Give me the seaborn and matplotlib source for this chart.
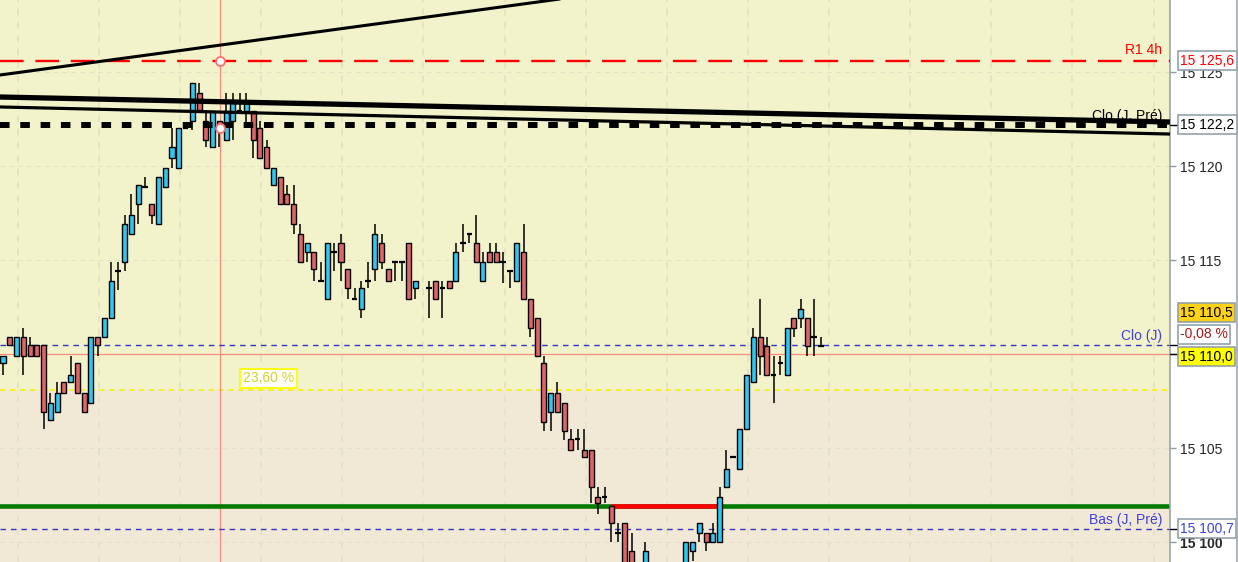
import numpy as np
import pandas as pd
import matplotlib
matplotlib.use('Agg')
import matplotlib.pyplot as plt
import matplotlib.transforms as mtransforms
from matplotlib.lines import Line2D
import seaborn as sns

# OHLC (one value per bar, NaN = empty slot)
opens = [15109.5, 15110.9, 15109.9, 15110.9, 15110.5, 15110.5, 15110.5, 15106.5, 15106.9, 15108.5,
         15108.5, 15109.5, 15107.9, 15107.4, 15110.9, 15110.9, 15111.9, 15114.4, 15114.9, 15116.4,
         15118.0, 15118.9, 15118.0, 15116.9, 15118.9, 15120.4, 15119.9, 15122.0, 15122.4, 15123.9,
         15122.4, 15121.0, 15122.4, 15121.4, 15122.4, 15122.9, 15122.9, 15122.9, 15122.0, 15121.0,
         15119.0, 15119.4, 15118.5, 15118.0, 15116.4, 15115.4, 15115.4, 15113.9, 15112.9, 15115.4,
         15115.9, 15114.5, 15112.9, 15112.4, 15113.9, 15114.5, 15115.9, 15114.5, 15114.9, 15114.9,
         15115.9, 15113.5, np.nan, 15113.5, 15113.9, 15113.5, 15113.9, 15113.9, 15115.9, 15116.4,
         15115.9, 15113.9, 15115.4, 15115.4, 15114.9, 15114.4, 15113.9, 15115.4, 15112.9, 15111.9,
         15109.5, 15106.9, 15107.9, 15107.4, 15105.5, 15105.5, 15104.9, 15104.9, 15102.4, 15102.4,
         15101.9, 15100.5, 15101.0, 15099.5, 15098.5, 15098.0, 15098.5, 15097.6, 15097.0, 15097.8,
         15097.3, 15098.2, 15099.5, 15100.5, 15100.5, 15100.0, 15100.0, 15102.9, 15104.5, 15103.9,
         15106.0, 15108.5, 15110.9, 15110.4, 15108.9, 15109.5, 15108.9, 15111.9, 15111.9, 15111.9,
         15110.9, 15110.4]
closes = [15109.9, 15110.5, 15110.9, 15109.9, 15109.9, 15109.9, 15106.9, 15107.4, 15107.9, 15107.9,
          15108.9, 15107.9, 15106.9, 15110.9, 15110.5, 15111.9, 15113.9, 15114.4, 15116.9, 15117.4,
          15119.0, 15118.9, 15117.4, 15119.4, 15119.9, 15121.0, 15122.0, 15122.0, 15124.4, 15123.0,
          15121.4, 15122.9, 15122.1, 15122.9, 15123.4, 15122.9, 15123.4, 15121.4, 15120.4, 15119.9,
          15119.9, 15118.0, 15118.0, 15116.9, 15114.9, 15115.9, 15114.5, 15113.9, 15115.9, 15115.4,
          15114.9, 15113.5, 15112.9, 15113.5, 15113.9, 15116.4, 15114.9, 15113.9, 15114.9, 15114.9,
          15112.9, 15113.9, np.nan, 15113.5, 15112.9, 15113.5, 15113.5, 15115.4, 15115.9, 15116.4,
          15114.9, 15114.9, 15114.9, 15114.9, 15114.9, 15114.4, 15115.9, 15112.9, 15111.4, 15109.9,
          15106.4, 15107.9, 15106.9, 15105.9, 15104.9, 15105.5, 15104.5, 15102.9, 15102.1, 15102.4,
          15101.0, 15100.5, 15098.0, 15098.2, 15097.5, 15099.5, 15097.6, 15097.0, 15097.8, 15097.3,
          15098.2, 15100.0, 15100.0, 15101.0, 15100.0, 15100.5, 15102.4, 15103.9, 15104.5, 15106.0,
          15108.9, 15110.9, 15109.9, 15108.9, 15108.9, 15109.5, 15111.4, 15111.4, 15112.4, 15110.4,
          15110.9, 15110.4]
highs = [15109.9, 15110.9, 15110.9, 15111.4, 15110.9, 15110.5, 15110.5, 15107.9, 15108.5, 15108.5,
         15109.9, 15109.5, 15107.9, 15110.9, 15110.9, 15111.9, 15114.9, 15114.9, 15117.4, 15118.5,
         15119.0, 15119.4, 15118.0, 15119.4, 15119.9, 15122.0, 15122.0, 15122.0, 15124.4, 15124.4,
         15123.0, 15122.9, 15122.4, 15123.9, 15123.9, 15123.9, 15123.9, 15122.9, 15122.4, 15121.4,
         15119.9, 15119.4, 15119.0, 15119.0, 15116.9, 15115.9, 15115.4, 15114.9, 15115.9, 15115.9,
         15116.4, 15114.5, 15113.5, 15113.9, 15114.9, 15116.9, 15116.4, 15114.5, 15114.9, 15114.9,
         15115.9, 15113.9, np.nan, 15113.9, 15113.9, 15113.9, 15113.9, 15115.9, 15116.9, 15116.4,
         15117.4, 15115.4, 15115.9, 15115.9, 15115.4, 15114.4, 15115.9, 15116.9, 15112.9, 15111.9,
         15109.9, 15107.9, 15108.5, 15107.4, 15106.0, 15106.0, 15106.0, 15104.9, 15102.9, 15102.9,
         15101.9, 15101.0, 15101.0, 15100.5, 15098.8, 15100.0, 15098.8, 15098.0, 15098.3, 15098.5,
         15098.7, 15100.0, 15100.0, 15101.0, 15100.5, 15101.0, 15102.9, 15104.9, 15104.5, 15106.0,
         15108.9, 15111.4, 15112.9, 15110.9, 15109.9, 15109.9, 15111.4, 15111.9, 15112.9, 15111.9,
         15112.9, 15110.9]
lows = [15108.9, 15110.5, 15109.9, 15108.9, 15109.9, 15109.9, 15106.0, 15106.5, 15106.9, 15107.9,
        15108.5, 15107.9, 15106.9, 15107.4, 15109.9, 15110.9, 15111.9, 15113.4, 15114.4, 15116.4,
        15116.9, 15118.9, 15116.9, 15116.9, 15118.9, 15119.9, 15119.9, 15122.0, 15121.9, 15123.0,
        15121.0, 15121.0, 15121.0, 15121.4, 15121.4, 15122.9, 15122.0, 15120.4, 15120.4, 15119.9,
        15119.0, 15118.0, 15118.0, 15116.4, 15114.9, 15114.9, 15113.9, 15113.9, 15112.9, 15114.4,
        15113.9, 15112.9, 15112.9, 15111.9, 15113.5, 15113.9, 15114.5, 15113.9, 15113.9, 15113.9,
        15112.9, 15112.9, np.nan, 15111.9, 15112.9, 15111.9, 15113.5, 15113.9, 15115.4, 15115.9,
        15114.9, 15113.9, 15114.9, 15114.9, 15113.8, 15113.5, 15113.9, 15112.9, 15110.9, 15109.9,
        15105.9, 15105.9, 15106.9, 15105.4, 15104.9, 15104.9, 15104.5, 15102.1, 15101.5, 15102.1,
        15100.0, 15100.0, 15098.0, 15098.2, 15097.0, 15098.0, 15097.2, 15096.5, 15096.8, 15097.0,
        15097.0, 15098.2, 15099.0, 15100.0, 15099.5, 15100.0, 15100.0, 15102.9, 15104.5, 15103.9,
        15106.0, 15108.5, 15108.9, 15108.9, 15107.4, 15108.9, 15108.9, 15110.9, 15111.4, 15109.9,
        15109.9, 15110.4]

# levels and drawn lines
r1_4h = 15125.6
clo_prev = 15122.2
clo_day = 15110.5
last_price = 15110.0
bas_prev = 15100.7
fib_236 = 15108.1
support = 15101.9
support_break = [89.9, 105.9]
cursor_x = 32.1
trend_x = [-0.44, 172.63]
trend_top = [15124.84, 15133.29]
trend_thick = [15123.67, 15122.34]
trend_thin = [15123.14, 15121.70]
yticks = [15100, 15105, 15110, 15115, 15120, 15125]

sns.set_style('white')
plt.rcParams['font.family'] = ['Liberation Sans', 'DejaVu Sans']

df = pd.DataFrame({'open': opens, 'high': highs, 'low': lows, 'close': closes})
df['i'] = np.arange(len(df))
df = df.dropna()

fig = plt.figure(figsize=(12.38, 5.62), dpi=100)
ax = fig.add_axes([0, 0, 1170 / 1238, 1])
y_bot, y_top = 15100 - 20 / 18.8, 15100 + 542 / 18.8
ax.set_xlim(-3 / 6.76, (1170 - 3) / 6.76)
ax.set_ylim(y_bot, y_top)

# background zones
ax.set_facecolor('#F2F2CB')
ax.axhspan(y_bot, fib_236, color='#F2E8D6', zorder=0)

# grid
for k in range(15):
    ax.axvline(2.2 + 12 * k, color='#E2E2C2', lw=1.2, ls=(0, (4, 4)), zorder=0.5)
for p in yticks:
    ax.axhline(p, color='#E4E0C8', lw=0.8, ls=(0, (4, 4)), zorder=0.5)

# reference lines under the candles
ax.axhline(fib_236, color='#F4F000', lw=1.1, ls=(0, (3.5, 3)), zorder=1)
ax.axhline(last_price, color='#FF8C80', lw=0.9, zorder=1)
ax.axvline(cursor_x, color='#FF8C80', lw=0.9, zorder=1)
ax.axhline(clo_day, color='#3535C8', lw=1.0, ls=(0, (4, 3.5)), zorder=1)
ax.axhline(bas_prev, color='#3535C8', lw=1.0, ls=(0, (4, 3.5)), zorder=1)
ax.axhline(support, color='#007A00', lw=3.3, zorder=2)
ax.hlines(support, support_break[0], support_break[1], color='#FF0000', lw=3.3, zorder=2.1)

# candles
ax.vlines(df['i'], df['low'], df['high'], color='black', lw=1.1, zorder=3)
body = df[(df['close'] - df['open']).abs() > 0.05]
up = body[body['close'] > body['open']]
dn = body[body['close'] < body['open']]
ax.bar(up['i'], up['close'] - up['open'], bottom=up['open'], width=0.74,
       color='#2EC8F4', edgecolor='black', linewidth=1.0, zorder=4)
ax.bar(dn['i'], dn['open'] - dn['close'], bottom=dn['close'], width=0.74,
       color='#E06666', edgecolor='black', linewidth=1.0, zorder=4)
doji = df[(df['close'] - df['open']).abs() <= 0.05]
ax.hlines(doji['close'], doji['i'] - 0.42, doji['i'] + 0.42, color='black', lw=1.6, zorder=4)

# lines over the candles
ax.axhline(r1_4h, color='#FF0000', lw=1.7, ls=(0, (10, 5)), zorder=5)
ax.axhline(clo_prev, color='black', lw=4.3, ls=(0, (1.6, 1.8)), zorder=5)
sns.lineplot(x=trend_x, y=trend_top, color='black', lw=2.2, ax=ax, zorder=5)
sns.lineplot(x=trend_x, y=trend_thick, color='black', lw=3.8, ax=ax, zorder=5)
sns.lineplot(x=trend_x, y=trend_thin, color='black', lw=2.3, ax=ax, zorder=5)
ax.plot([cursor_x, cursor_x], [r1_4h, 15122.0], 'o', mfc='white', mec='#FF7070',
        mew=1.3, ms=6.5, zorder=6)

# line captions
lx = (1162 - 3) / 6.76
ax.text(lx, r1_4h + 0.18, 'R1 4h', ha='right', va='bottom', color='#FF0000', fontsize=10, zorder=7)
ax.text(lx, clo_prev + 0.1, 'Clo (J, Pré)', ha='right', va='bottom', color='black', fontsize=10, zorder=7)
ax.text(lx, clo_day + 0.1, 'Clo (J)', ha='right', va='bottom', color='#4040E0', fontsize=10, zorder=7)
ax.text(lx, bas_prev + 0.1, 'Bas (J, Pré)', ha='right', va='bottom', color='#4040E0', fontsize=10, zorder=7)
ax.text((268.5 - 3) / 6.76, 15108.7, '23,60 %', ha='center', va='center', color='#D2D22A',
        fontsize=10, zorder=7,
        bbox=dict(boxstyle='square,pad=0.2', fc='white', ec='#FFFF00', lw=1.3))

# right price scale (15 110 sits under the price boxes, so no label)
ax.set_xticks([])
ax.set_xlabel('')
ax.set_ylabel('')
ax.yaxis.tick_right()
ax.set_yticks(yticks)
ax.set_yticklabels(['' if p == 15110 else f'{p // 1000} {p % 1000:03d}' for p in yticks], fontsize=10)
ax.get_yticklabels()[0].set_fontweight('bold')
ax.tick_params(axis='y', direction='out', length=4, width=1, color='#8C9BA5', pad=3,
               right=True, left=False)
for s in ['left', 'top', 'bottom']:
    ax.spines[s].set_visible(False)
ax.spines['right'].set_color('#9AA4AE')
ax.spines['right'].set_linewidth(1.2)

trans = mtransforms.blended_transform_factory(ax.transAxes, ax.transData)
bx = 1180 / 1170
boxes = [
    (r1_4h, '15 125,6', '#FF0000', 'white'),
    (clo_prev, '15 122,2', 'black', 'white'),
    (15112.2, '15 110,5', 'black', '#FFD21A'),
    (15111.05, '-0,08 %', '#B01818', 'white'),
    (15109.85, '15 110,0', 'black', '#FFFF00'),
    (bas_prev, '15 100,7', '#4040E0', 'white'),
]
for y, s, tc, fc in boxes:
    ax.text(bx, y, s, transform=trans, ha='left', va='center', color=tc, fontsize=10,
            clip_on=False, zorder=8,
            bbox=dict(boxstyle='square,pad=0.18', fc=fc, ec='#8C9BA5', lw=1.1))
for y in [clo_prev, clo_day, last_price, bas_prev]:
    ax.plot([1.0, 1.006], [y, y], color='black', lw=1, transform=trans, clip_on=False, zorder=7)

fig.add_artist(Line2D([1236.5 / 1238] * 2, [0, 1], color='#A0A8B0', lw=1.2))

fig.savefig('out.png', dpi=100)
